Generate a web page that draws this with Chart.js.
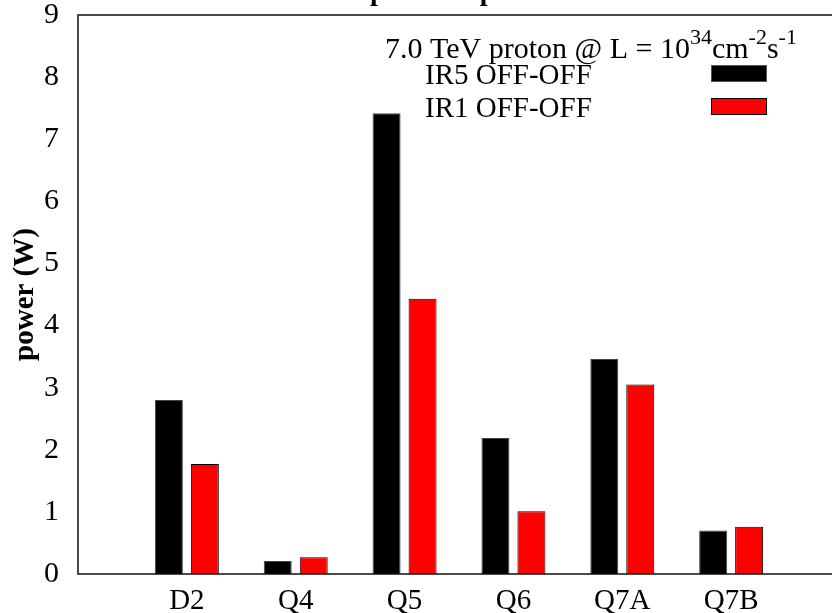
<!DOCTYPE html>
<html>
<head>
<meta charset="utf-8">
<script src="https://cdn.jsdelivr.net/npm/chart.js@4/dist/chart.umd.min.js"></script>
<style>
  html, body { margin: 0; padding: 0; background: #fff; overflow: hidden; width: 832px; height: 613px; }
  #wrap { position: absolute; left: 0; top: 0; width: 880px; height: 613px; }
</style>
</head>
<body>
<div id="wrap"><canvas id="c" width="880" height="613"></canvas></div>
<script>
const categories = ['D2', 'Q4', 'Q5', 'Q6', 'Q7A', 'Q7B'];
const ir5Values = [2.80, 0.21, 7.42, 2.19, 3.46, 0.70];
const ir1Values = [1.77, 0.27, 4.43, 1.01, 3.05, 0.76];
const seriesLabels = ['IR5 OFF-OFF', 'IR1 OFF-OFF'];
const yTicks = [0, 1, 2, 3, 4, 5, 6, 7, 8, 9];
const legendHeader = ['7.0 TeV proton @ L = 10', '34', 'cm', '-2', 's', '-1'];

const SERIF = '"Liberation Serif", "Times New Roman", serif';

const framePlugin = {
  id: 'frame',
  afterDatasetsDraw(chart) {
    const { ctx, chartArea: a } = chart;
    ctx.save();
    ctx.strokeStyle = '#111';
    ctx.lineWidth = 1.5;
    ctx.strokeRect(a.left, a.top, a.right - a.left, a.bottom - a.top);
    ctx.restore();
  }
};

const textPlugin = {
  id: 'texts',
  afterDraw(chart) {
    const { ctx } = chart;
    ctx.save();
    ctx.fillStyle = '#000';
    ctx.textBaseline = 'alphabetic';
    ctx.textAlign = 'left';
    // cut-off title (only descenders visible)
    ctx.font = 'bold 28px ' + SERIF;
    const pre = 'Total ';
    ctx.fillText('Total power deposited', 370 - ctx.measureText(pre).width, 0);
    // legend header with superscripts
    let x = 385;
    const base = 58;
    const big = '30px ' + SERIF, small = '22px ' + SERIF;
    legendHeader.forEach((t, i) => {
      const sup = i % 2 === 1;
      ctx.font = sup ? small : big;
      ctx.fillText(t, x, sup ? base - 14 : base);
      x += ctx.measureText(t).width;
    });
    // legend entries
    const colors = chart.data.datasets.map(d => d.backgroundColor);
    ctx.font = '29px ' + SERIF;
    chart.data.datasets.forEach((d, i) => {
      const y = 84 + i * 33;
      ctx.fillStyle = '#000';
      ctx.fillText(d.label, 425, y);
      ctx.fillStyle = colors[i];
      ctx.fillRect(711, 65 + i * 33, 56, 17);
      ctx.strokeStyle = i === 0 ? '#555' : '#000';
      ctx.lineWidth = 1;
      ctx.strokeRect(711.5, 65.5 + i * 33, 55, 16);
    });
    ctx.restore();
  }
};

new Chart(document.getElementById('c'), {
  type: 'bar',
  data: {
    datasets: [
      {
        label: seriesLabels[0],
        data: ir5Values.map((v, i) => ({ x: i + 1, y: v })),
        backgroundColor: '#000000',
        borderColor: '#444',
        borderWidth: 1
      },
      {
        label: seriesLabels[1],
        data: ir1Values.map((v, i) => ({ x: i + 1, y: v })),
        backgroundColor: '#ff0000',
        borderColor: '#000',
        borderWidth: 1
      }
    ]
  },
  options: {
    responsive: false,
    animation: false,
    devicePixelRatio: 1,
    layout: { padding: { top: 15, right: 40, left: 0, bottom: 0 } },
    categoryPercentage: 0.661,
    barPercentage: 0.778,
    plugins: {
      legend: { display: false },
      title: { display: false },
      tooltip: { enabled: false }
    },
    scales: {
      x: {
        type: 'linear',
        min: 0,
        max: categories.length + 1,
        offset: false,
        grid: { display: false, offset: false },
        border: { display: false },
        afterBuildTicks(scale) {
          scale.ticks = [0, ...categories.map((c, i) => i + 1), categories.length + 1].map(v => ({ value: v }));
        },
        afterFit(scale) { scale.height = 39; scale.paddingLeft = 0; scale.paddingRight = 0; },
        ticks: {
          autoSkip: false,
          maxRotation: 0,
          padding: 2,
          color: '#000',
          font: { family: SERIF, size: 29 },
          callback: (v) => categories[v - 1] || ''
        }
      },
      y: {
        min: 0,
        max: 9,
        grid: { display: false },
        border: { display: false },
        afterBuildTicks(scale) { scale.ticks = yTicks.map(v => ({ value: v })); },
        afterFit(scale) { scale.width = 78; scale.paddingTop = 0; scale.paddingBottom = 0; },
        ticks: {
          padding: 11,
          color: '#000',
          font: { family: SERIF, size: 30 }
        },
        title: {
          display: true,
          text: 'power (W)',
          color: '#000',
          padding: { top: 8, bottom: 0 },
          font: { family: SERIF, size: 29, weight: 'bold' }
        }
      }
    }
  },
  plugins: [framePlugin, textPlugin]
});
</script>
</body>
</html>
